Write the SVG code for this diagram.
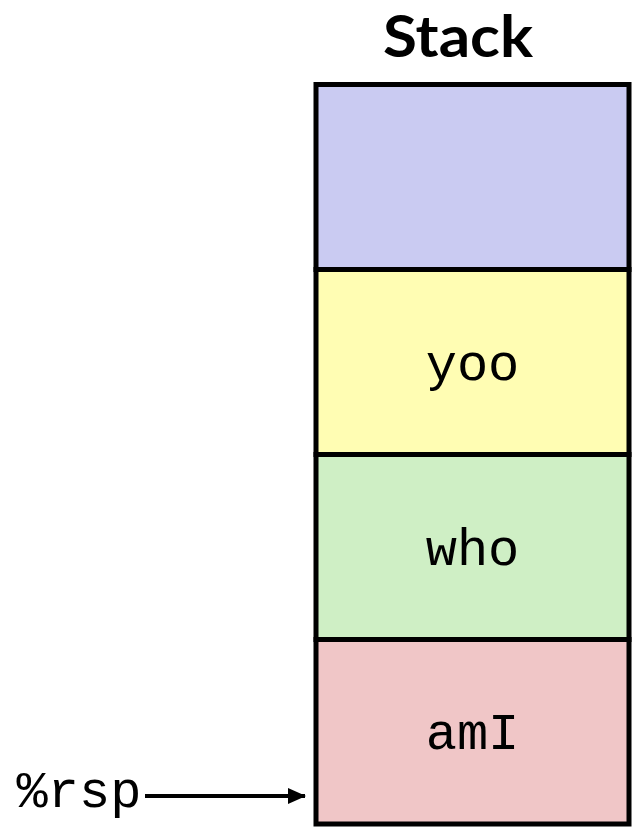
<svg xmlns="http://www.w3.org/2000/svg" width="632" height="828" viewBox="0 0 632 828">
<style>
.cell{stroke:#000;stroke-width:5}
.mono{font-family:"Liberation Mono","Courier New",monospace;font-size:52px;fill:#000}
.title{font-family:Lato,"Open Sans","Liberation Sans",sans-serif;font-weight:bold;font-size:58px;fill:#000}
</style>
<defs>
<marker id="ah" markerWidth="18" markerHeight="16" refX="17" refY="8" orient="auto" markerUnits="userSpaceOnUse">
<path d="M0,0 L18,8 L0,16 Z" fill="#000"/>
</marker>
</defs>
<rect width="632" height="828" fill="#fff"/>
<g id="title"><text class="title" x="458" y="57" text-anchor="middle" textLength="150" lengthAdjust="spacingAndGlyphs">Stack</text></g>
<g id="cell-top"><rect class="cell" x="316" y="84.5" width="313" height="185" fill="#CACBF2"/></g>
<g id="cell-yoo"><rect class="cell" x="316" y="269.5" width="313" height="185" fill="#FFFDB3"/><text class="mono" x="472.5" y="380" text-anchor="middle">yoo</text></g>
<g id="cell-who"><rect class="cell" x="316" y="454.5" width="313" height="185" fill="#CFEFC5"/><text class="mono" x="472.5" y="565" text-anchor="middle">who</text></g>
<g id="cell-amI"><rect class="cell" x="316" y="639.5" width="313" height="184.5" fill="#F0C6C7"/><text class="mono" x="472.5" y="749" text-anchor="middle">amI</text></g>
<g id="rsp"><text class="mono" x="79" y="807" text-anchor="middle" font-size="50">%rsp</text></g>
<g id="connectors"><line x1="145" y1="796" x2="305" y2="796" stroke="#000" stroke-width="4" marker-end="url(#ah)"/></g>
</svg>
